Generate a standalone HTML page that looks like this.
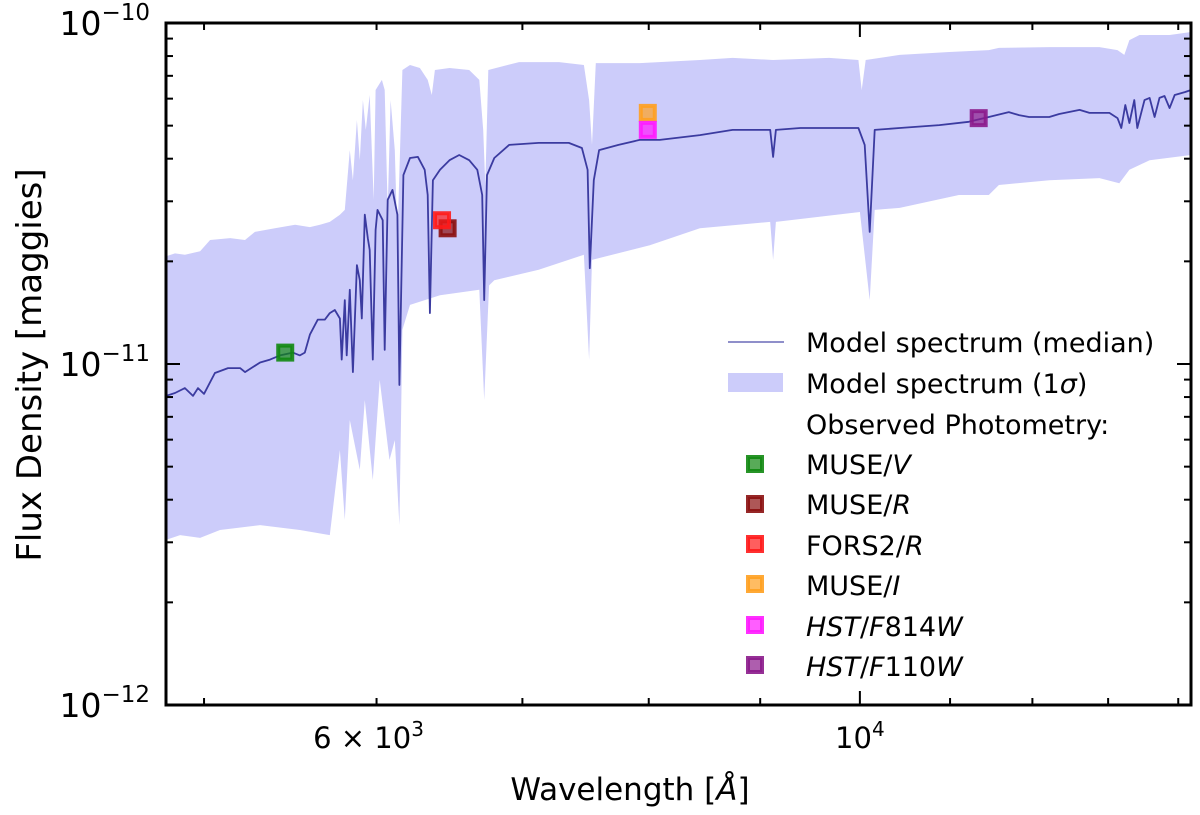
<!DOCTYPE html>
<html><head><meta charset="utf-8"><style>
html,body{margin:0;padding:0;background:#fff;}
svg{display:block;font-family:"DejaVu Sans","Liberation Sans",sans-serif;}
</style></head><body>
<svg id="chart" width="1200" height="815" viewBox="0 0 1200 815" xmlns="http://www.w3.org/2000/svg">
<defs><clipPath id="clip"><rect x="166" y="23" width="1025" height="682"/></clipPath></defs>
<g id="band" clip-path="url(#clip)"></g>
<g id="line" clip-path="url(#clip)"></g>
<g id="markers"></g>
<g id="axes"></g>
<g id="legend" font-size="27" fill="#000">
  <line x1="728" y1="342" x2="784" y2="342" stroke="#6a6ab8" stroke-width="1.5"/>
  <rect x="728" y="373" width="55" height="19" fill="#ccccfa"/>
  <text x="806" y="352">Model spectrum (median)</text>
  <text x="806" y="393">Model spectrum (1<tspan font-style="italic">σ</tspan>)</text>
  <text x="806" y="434">Observed Photometry:</text>
  <text x="806" y="474">MUSE/<tspan font-style="italic">V</tspan></text>
  <text x="806" y="514">MUSE/<tspan font-style="italic">R</tspan></text>
  <text x="806" y="555">FORS2/<tspan font-style="italic">R</tspan></text>
  <text x="806" y="595">MUSE/<tspan font-style="italic">I</tspan></text>
  <text x="806" y="636"><tspan font-style="italic">HST</tspan>/<tspan font-style="italic">F</tspan>814<tspan font-style="italic">W</tspan></text>
  <text x="806" y="676"><tspan font-style="italic">HST</tspan>/<tspan font-style="italic">F</tspan>110<tspan font-style="italic">W</tspan></text>
</g>
<text x="630" y="800" font-size="31" text-anchor="middle">Wavelength [<tspan font-style="italic">Å</tspan>]</text>
<text transform="translate(41,365) rotate(-90)" font-size="34" text-anchor="middle">Flux Density [maggies]</text>
</svg>
<script>
// wavelength in Angstrom, flux in units of 1e-12 maggies
const medWl = [4803,4849,4900,4942,4968,5000,5058,5128,5194,5221,5305,5361,5418,5492,5533,5562,5592,5639,5681,5711,5741,5772,5783,5802,5814,5833,5852,5877,5895,5907,5926,5945,5957,5976,5994,6006,6039,6052,6071,6102,6134,6147,6173,6216,6268,6313,6333,6348,6368,6416,6481,6548,6617,6674,6709,6723,6743,6795,6902,7122,7352,7454,7499,7517,7549,7591,7748,7924,8094,8444,8741,9096,9124,9151,9391,9984,10051,10104,10158,10430,10876,11220,11460,11705,11830,11958,12216,12345,12614,12747,13017,13129,13182,13238,13295,13365,13407,13510,13582,13654,13725,13798,13872,13947,14097,14190];
const medFlux = [8.06,8.22,8.50,8.06,8.50,8.17,9.41,9.73,9.73,9.47,10.1,10.3,10.6,10.8,10.6,10.8,12.2,13.5,13.5,14.1,14.4,13.6,10.3,15.4,10.6,16.5,9.47,19.5,17.6,13.6,27.4,23.4,21.6,10.3,24.7,28.3,26.4,11.0,30.3,32.4,27.4,8.68,35.8,40.2,40.5,37.1,31.3,14.1,34.6,37.1,39.6,41.0,39.6,37.1,31.3,15.4,35.8,40.2,43.9,44.5,44.5,43.0,37.1,19.1,34.6,42.4,43.9,45.4,45.4,46.9,48.6,48.6,40.5,48.6,49.2,49.2,43.9,24.4,48.6,49.2,50.2,51.3,53.0,54.8,53.7,53.0,53.0,54.1,55.6,54.5,54.5,52.6,49.2,57.5,50.9,59.4,49.2,59.4,60.3,53.0,60.3,61.1,56.3,61.5,62.7,63.6];
const upWl = [4803,4849,4900,4979,5032,5140,5221,5276,5389,5505,5592,5652,5711,5772,5802,5833,5852,5877,5895,5914,5932,5957,5982,5994,6034,6052,6071,6090,6117,6134,6166,6216,6281,6333,6361,6382,6481,6617,6688,6716,6731,6752,6975,7277,7470,7511,7534,7565,7924,8444,8741,9124,9681,9984,10019,10062,10430,10992,11460,11583,12216,12882,13129,13224,13295,13438,13872,14190];
const upFlux = [20.7,21.1,20.9,21.4,23.1,23.4,23.1,24.4,25.0,25.6,25.2,25.6,26.1,27.4,28.3,42.4,34.6,51.9,39.6,59.4,48.6,61.5,30.3,63.6,68.1,63.6,28.3,59.4,42.4,23.1,72.8,75.3,73.8,68.1,61.5,72.8,73.8,72.8,68.1,48.6,33.5,72.8,76.8,76.8,75.3,59.4,43.9,76.3,76.3,77.9,79.0,77.9,79.0,77.9,63.6,77.9,80.6,82.2,83.3,84.5,85.0,85.0,83.3,80.6,89.1,92.2,92.2,94.1];
const loWl = [4803,4875,4979,5085,5305,5533,5711,5772,5802,5833,5895,5926,5976,6020,6083,6117,6147,6166,6216,6416,6688,6723,6758,6795,7122,7470,7511,7534,8009,8444,9096,9124,9151,10000,10104,10158,10430,11103,11460,11583,12216,12882,13155,13295,13582,14190];
const loFlux = [3.05,3.15,3.09,3.26,3.37,3.26,3.15,5.59,3.49,6.85,4.89,7.84,4.57,8.98,5.23,5.98,3.37,12.6,14.9,15.9,16.5,7.84,17.0,17.6,18.9,20.9,10.3,20.2,22.3,25.0,26.1,20.2,26.1,27.9,15.4,28.3,28.7,31.3,31.3,33.5,34.6,35.1,33.9,37.1,39.6,41.0];
const photNames = ["MUSE/V","MUSE/R","FORS2/R","MUSE/I","HST/F814W","HST/F110W"];
const photWl = [5448,6468,6430,7992,7992,11338];
const photFlux = [10.8,25.0,26.4,54.5,48.6,52.6];
const photColors = ["#118811","#8b1010","#ff1a1a","#ffa020","#ff1aff","#8b1a8b"];
const yMajor = [1,10,100];
const yMajorExp = ["−12","−11","−10"];

const X0=166,X1=1191,Y0=23,Y1=705, WMIN=4803, WMAX=14190, FMIN=1, FMAX=100;
const NS="http://www.w3.org/2000/svg";
function sx(w){return X0+(X1-X0)*Math.log10(w/WMIN)/Math.log10(WMAX/WMIN);}
function sy(f){return Y1-(Y1-Y0)*Math.log10(f/FMIN)/Math.log10(FMAX/FMIN);}
function mk(tag,attrs,parent){const e=document.createElementNS(NS,tag);for(const k in attrs)e.setAttribute(k,attrs[k]);parent.appendChild(e);return e;}

let pts=[];
for(let i=0;i<upWl.length;i++)pts.push(sx(upWl[i]).toFixed(1)+","+sy(upFlux[i]).toFixed(1));
for(let i=loWl.length-1;i>=0;i--)pts.push(sx(loWl[i]).toFixed(1)+","+sy(loFlux[i]).toFixed(1));
const band=mk("polygon",{points:pts.join(" "),fill:"#ccccfa"},document.getElementById("band"));



let lp=[];
for(let i=0;i<medWl.length;i++)lp.push(sx(medWl[i]).toFixed(1)+","+sy(medFlux[i]).toFixed(1));
const ln=mk("polyline",{points:lp.join(" "),fill:"none",stroke:"#3b3ba0","stroke-width":1.8,"stroke-linejoin":"round"},document.getElementById("line"));



const mg=document.getElementById("markers");
function square(cx,cy,c,parent){
  return mk("rect",{x:cx-7,y:cy-7,width:14,height:14,fill:c,"fill-opacity":0.7,stroke:c,"stroke-width":4,"stroke-opacity":0.9},parent);
}
for(let i=0;i<photWl.length;i++){
  const r=square(sx(photWl[i]),sy(photFlux[i]),photColors[i],mg);
  
  
}
const legY=[464,504,544,584,625,665];
const lg=document.getElementById("legend");
for(let i=0;i<legY.length;i++){
  const r=square(755,legY[i],photColors[i],lg);
  
  
}

const ax=document.getElementById("axes");
const frame=mk("rect",{x:X0,y:Y0,width:X1-X0,height:Y1-Y0,fill:"none",stroke:"#000","stroke-width":3},ax);


for(let d=0;d<2;d++){
  for(let m=1;m<10;m++){
    const f=yMajor[d]*m, y=sy(f), L=(m===1)?14:7;
    const t1=mk("line",{x1:X0,y1:y,x2:X0+L,y2:y,stroke:"#000","stroke-width":2},ax);
    
    
    const t2=mk("line",{x1:X1,y1:y,x2:X1-L,y2:y,stroke:"#000","stroke-width":2},ax);
    
    
  }
}
for(let i=0;i<yMajor.length;i++){
  const y=sy(yMajor[i]);
  const t=mk("text",{x:150,y:y+12,"font-size":33,"text-anchor":"end"},ax);
  
  
  t.appendChild(document.createTextNode("10"));
  const s=mk("tspan",{"font-size":23,dy:-15},t);
  s.textContent=yMajorExp[i];
}
const xMinor=[5000,6000,7000,8000,9000,10000,11000,12000,13000,14000];
for(const w of xMinor){
  const x=sx(w), L=(w===10000)?14:7;
  const a=mk("line",{x1:x,y1:Y1,x2:x,y2:Y1-L,stroke:"#000","stroke-width":2},ax);
  
  
  const b=mk("line",{x1:x,y1:Y0,x2:x,y2:Y0+L,stroke:"#000","stroke-width":2},ax);
  
  
}
const t6=mk("text",{x:sx(6000)-8,y:748,"font-size":29,"text-anchor":"middle"},ax);


t6.appendChild(document.createTextNode("6 × 10"));
const s6=mk("tspan",{"font-size":20,dy:-12},t6); s6.textContent="3";
const t4=mk("text",{x:sx(10000),y:748,"font-size":29,"text-anchor":"middle"},ax);


t4.appendChild(document.createTextNode("10"));
const s4=mk("tspan",{"font-size":20,dy:-12},t4); s4.textContent="4";
</script>
</body></html>
